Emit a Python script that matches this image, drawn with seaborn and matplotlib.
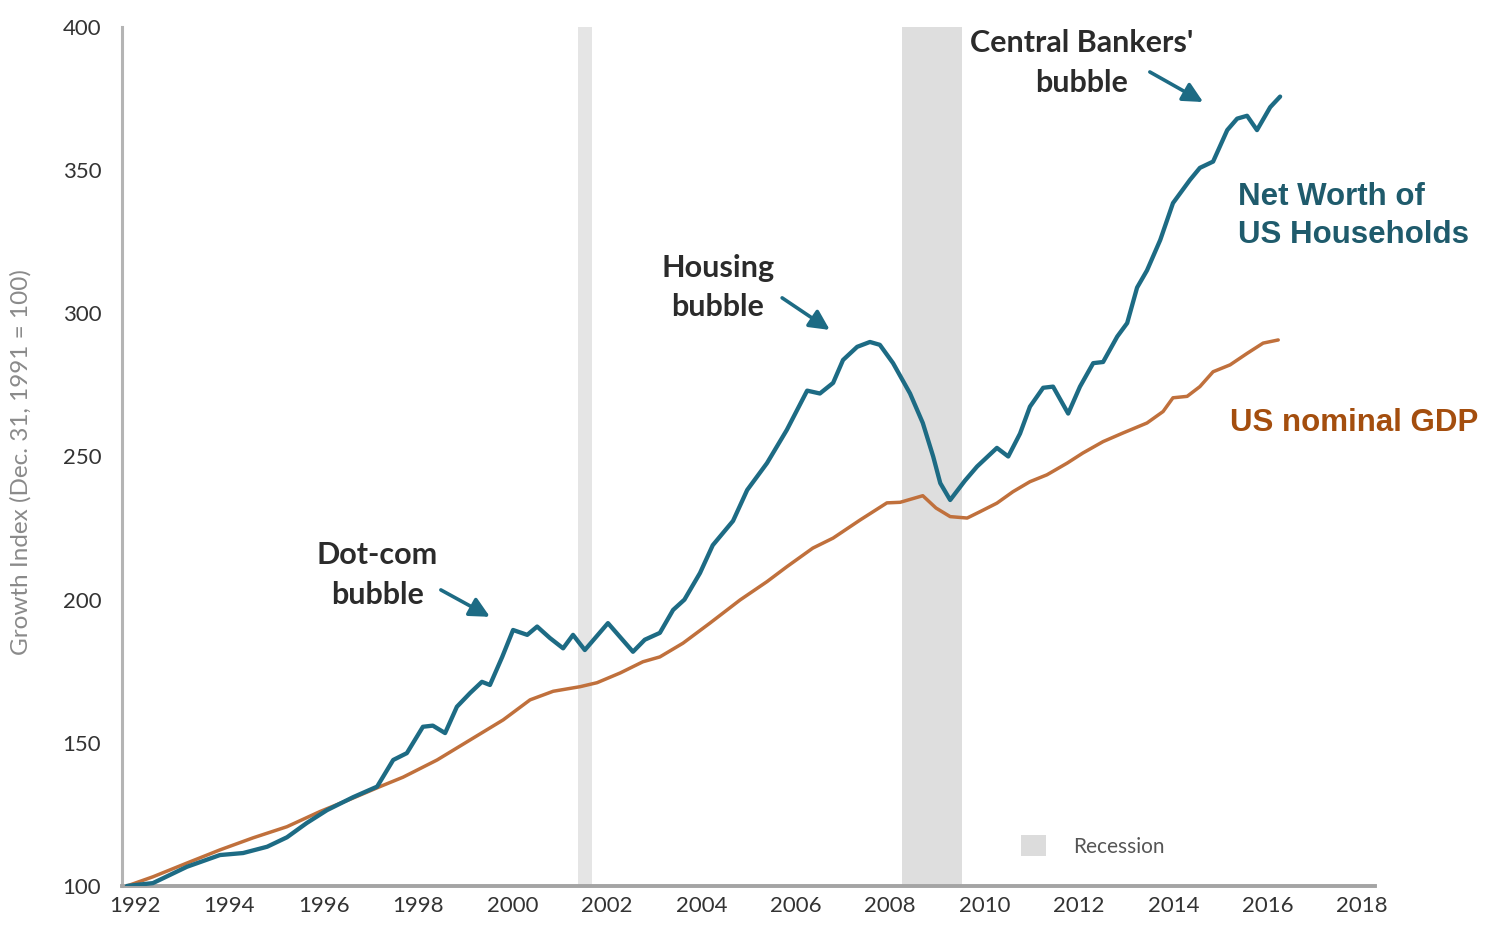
import matplotlib
matplotlib.use("Agg")
import matplotlib.pyplot as plt
from matplotlib.patches import Patch
import numpy as np
import pandas as pd
import seaborn as sns

# Household net worth, growth index (Dec. 31, 1991 = 100)
nw_year = [1991.83, 1992.38, 1993.10, 1993.80, 1994.29, 1994.80, 1995.22, 1995.64,
           1996.07, 1996.62, 1997.13, 1997.47, 1997.76, 1998.10, 1998.31, 1998.57,
           1998.82, 1999.10, 1999.35, 1999.52, 1999.78, 2000.01, 2000.31, 2000.52,
           2000.79, 2001.07, 2001.28, 2001.53, 2002.02, 2002.55, 2002.80, 2003.12,
           2003.40, 2003.64, 2003.97, 2004.24, 2004.67, 2004.97, 2005.39, 2005.81,
           2006.24, 2006.51, 2006.79, 2007.00, 2007.30, 2007.57, 2007.78, 2008.06,
           2008.42, 2008.69, 2008.91, 2009.06, 2009.27, 2009.58, 2009.84, 2010.26,
           2010.50, 2010.75, 2010.96, 2011.24, 2011.45, 2011.77, 2012.02, 2012.30,
           2012.51, 2012.81, 2013.02, 2013.23, 2013.44, 2013.72, 2013.99, 2014.35,
           2014.56, 2014.84, 2015.14, 2015.35, 2015.56, 2015.77, 2016.05, 2016.26]
nw_value = [100.0, 101.0, 106.7, 110.8, 111.5, 113.7, 117.0, 122.0,
            126.5, 131.0, 134.7, 144.0, 146.4, 155.6, 156.0, 153.4,
            162.6, 167.4, 171.3, 170.2, 180.0, 189.4, 187.7, 190.6,
            186.6, 183.0, 187.7, 182.4, 191.8, 181.8, 186.0, 188.4,
            196.4, 200.0, 209.3, 219.0, 227.5, 238.3, 247.7, 259.3,
            273.0, 272.0, 275.7, 283.7, 288.3, 290.0, 289.0, 282.6,
            272.0, 261.7, 250.0, 240.7, 234.8, 241.5, 246.5, 253.0,
            250.0, 258.0, 267.4, 274.0, 274.4, 265.0, 274.4, 282.6,
            283.0, 291.9, 296.6, 309.0, 315.0, 325.6, 338.5, 346.6,
            350.8, 353.0, 364.0, 368.0, 369.0, 364.0, 372.0, 375.7]

# US nominal GDP, growth index (Dec. 31, 1991 = 100)
gdp_year = [1991.83, 1992.38, 1993.10, 1993.80, 1994.50, 1995.22, 1995.92, 1996.62,
            1997.19, 1997.68, 1998.40, 1999.10, 1999.80, 2000.37, 2000.86, 2001.43,
            2001.79, 2002.28, 2002.76, 2003.12, 2003.61, 2004.18, 2004.82, 2005.39,
            2005.81, 2006.36, 2006.79, 2007.36, 2007.93, 2008.21, 2008.69, 2008.97,
            2009.27, 2009.63, 2009.90, 2010.26, 2010.60, 2010.96, 2011.32, 2011.75,
            2012.08, 2012.51, 2012.93, 2013.44, 2013.78, 2013.99, 2014.29, 2014.56,
            2014.84, 2015.20, 2015.56, 2015.90, 2016.22]
gdp_value = [100.0, 103.2, 108.0, 112.6, 116.8, 120.7, 126.0, 130.7,
             134.7, 138.0, 144.0, 151.0, 158.0, 165.0, 168.0, 169.6,
             171.0, 174.4, 178.3, 180.0, 184.8, 191.8, 199.9, 206.3,
             211.5, 218.0, 221.5, 227.8, 233.8, 234.0, 236.3, 232.0,
             229.0, 228.5, 230.7, 233.7, 237.7, 241.2, 243.6, 247.7,
             251.2, 255.2, 258.2, 261.7, 265.7, 270.5, 271.0, 274.4,
             279.6, 282.0, 286.0, 289.6, 290.7]

# Recession periods (start, end)
recessions = [(2001.39, 2001.68), (2008.24, 2009.51)]
recession_colors = ["#e5e5e5", "#dedede"]

x_ticks = list(range(1992, 2019, 2))
y_ticks = [100, 150, 200, 250, 300, 350, 400]

nw_color = "#1d6b84"
gdp_color = "#c0703c"

sns.set_theme(style="white")
plt.rcParams["font.family"] = ["Lato", "DejaVu Sans"]

fig = plt.figure(figsize=(14.86, 9.25), dpi=100)
ax = fig.add_axes([0.0821, 0.0422, 0.8432, 0.9286])

for (start, end), col in zip(recessions, recession_colors):
    ax.axvspan(start, end, color=col, lw=0, zorder=0)

nw_df = pd.DataFrame({"year": nw_year, "index": nw_value})
gdp_df = pd.DataFrame({"year": gdp_year, "index": gdp_value})
sns.lineplot(data=gdp_df, x="year", y="index", ax=ax, color=gdp_color,
             lw=2.5, zorder=3)
sns.lineplot(data=nw_df, x="year", y="index", ax=ax, color=nw_color,
             lw=3.1, zorder=4)

ax.set_xlim(1991.725, 2018.27)
ax.set_ylim(100, 400)
ax.set_xticks(x_ticks)
ax.set_xticklabels([str(t) for t in x_ticks])
ax.set_yticks(y_ticks)
ax.tick_params(axis="x", length=0, pad=7, labelsize=16, labelcolor="#333333")
ax.tick_params(axis="y", length=0, pad=15, labelsize=16, labelcolor="#333333")

for side in ("top", "right"):
    ax.spines[side].set_visible(False)
ax.spines["left"].set_color("#b4b4b4")
ax.spines["left"].set_linewidth(2.2)
ax.spines["bottom"].set_color("#a4a4a4")
ax.spines["bottom"].set_linewidth(2.8)

ax.set_xlabel("")
ax.set_ylabel("Growth Index (Dec. 31, 1991 = 100)", fontsize=17.5, color="#8a8a8a")
ax.yaxis.set_label_coords(-0.0718, 0.494)

# Bubble annotations
arrow_kw = dict(arrowstyle="-|>,head_length=1.0,head_width=0.5",
                color=nw_color, lw=2.6, shrinkA=0, shrinkB=0)
notes = [
    ("Dot-com\nbubble", (1997.13, 208.6), (1998.48, 203.4), (1999.52, 194.0)),
    ("Housing\nbubble", (2004.35, 309.0), (2005.71, 305.4), (2006.72, 294.2)),
    ("Central Bankers'\nbubble", (2012.06, 387.5), (2013.50, 384.3), (2014.63, 373.8)),
]
for label, text_xy, tail, head in notes:
    ax.text(*text_xy, label, ha="center", va="center", fontsize=22,
            fontweight="bold", color="#2b2b2b", linespacing=1.5, zorder=5)
    ax.annotate("", xy=head, xytext=tail, arrowprops=arrow_kw, zorder=5)

# Series labels
ax.text(2015.37, 334.0, "Net Worth of\nUS Households", ha="left", va="center",
        fontsize=22.5, fontweight="bold", color="#1f5b6c",
        family=["Liberation Sans", "DejaVu Sans"], linespacing=1.32, zorder=5)
ax.text(2015.20, 261.7, "US nominal GDP", ha="left", va="center",
        fontsize=22.5, fontweight="bold", color="#a44e0e",
        family=["Liberation Sans", "DejaVu Sans"], zorder=5)

# Recession key
leg = ax.legend(handles=[Patch(facecolor="#dcdcdc", edgecolor="none", label="Recession")],
                loc="lower left", bbox_to_anchor=(0.709, 0.022), frameon=False,
                borderpad=0, handlelength=1.2, handleheight=1.2,
                handletextpad=1.3, fontsize=15)
for t in leg.get_texts():
    t.set_color("#555555")

fig.savefig("out.png", dpi=100, facecolor="white")
